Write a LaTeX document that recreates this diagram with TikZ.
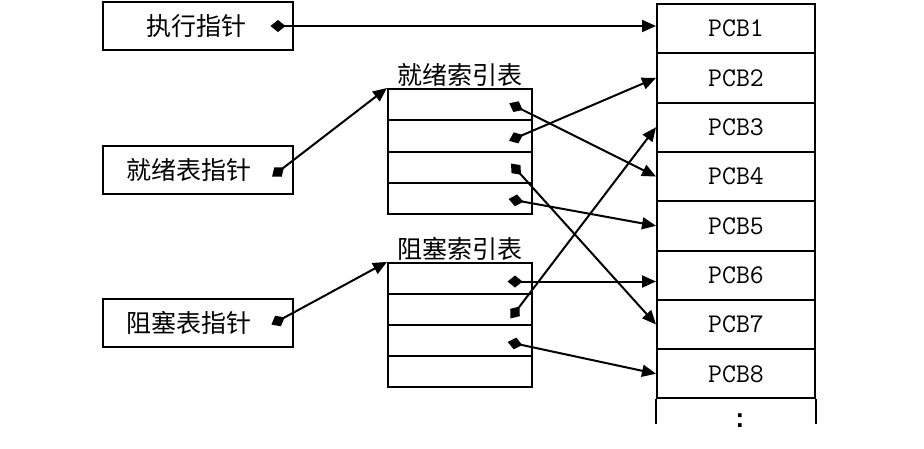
\documentclass[tikz,border=0pt]{standalone}
\usepackage{fontspec}
\newfontfamily\cjk{Noto Sans CJK SC}
\newfontfamily\monob{Liberation Mono}
\usetikzlibrary{arrows.meta}
\tikzset{
  ptrbox/.style={draw, line width=2pt, minimum width=190pt, minimum height=48pt, inner sep=0pt, font=\cjk\fontsize{25}{30}\selectfont},
  cell/.style={draw, line width=2pt, minimum width=144pt, minimum height=31.25pt, inner sep=0pt},
  pcb/.style={draw, line width=2pt, minimum width=158pt, minimum height=49.3pt, inner sep=0pt, font=\ttfamily\fontsize{27}{32}\selectfont},
  tabtitle/.style={anchor=south, inner sep=1pt, font=\cjk\fontsize{25}{30}\selectfont},
  link/.style={line width=2pt, {Diamond[length=15pt,width=12pt]}-{Triangle[length=14pt,width=12pt]}, shorten <=-7.5pt},
}
\begin{document}
\begin{tikzpicture}[x=1pt,y=-1pt]
    \useasboundingbox (0,0) rectangle (924,448);
\node[ptrbox] (run) at (198,26) {执行指针\hspace*{4pt}}; % run
\node[ptrbox] (ready) at (198,170) {就绪表指针\hspace*{18pt}}; % ready
\node[ptrbox] (block) at (198,323) {阻塞表指针\hspace*{18pt}}; % block
\coordinate (runp) at (278,26);
\coordinate (readyp) at (278,172);
\coordinate (blockp) at (278,321);
\foreach \i in {1,...,4} \node[cell] (r\i) at (460,{89+31.25*(\i-0.5)}) {}; % ready index
\foreach \i in {1,...,4} \node[cell] (b\i) at (460,{263+31*(\i-0.5)}) {}; % block index
\node[tabtitle] (rtitle) at (r1.north) {就绪索引表};
\node[tabtitle] (btitle) at (b1.north) {阻塞索引表};
\foreach \i in {1,...,4} \coordinate (rp\i) at ([xshift=-17pt,yshift=-2pt]r\i.east);
\foreach \i in {1,...,3} \coordinate (bp\i) at ([xshift=-18pt,yshift=-3pt]b\i.east);
\foreach \i in {1,...,8} \node[pcb] (p\i) at (736,{4+49.3*(\i-0.5)}) {PCB\i}; % pcb table
\draw[line width=2pt] (p8.south west) -- ++(0,25);
\draw[line width=2pt] (p8.south east) -- ++(0,25);
\node[anchor=base, inner sep=0pt, font=\monob\bfseries\fontsize{26}{30}\selectfont] (more) at (740,427) {:};
\draw[link] (runp) -- (runp -| p1.west); % run -> pcb1
\draw[link] (readyp) -- (r1.north west);
\draw[link] (blockp) -- (b1.north west);
\draw[link] (rp1) -- (p4.west);
\draw[link] (rp2) -- (p2.west);
\draw[link] (rp3) -- (p7.west);
\draw[link] (rp4) -- (p5.west);
\draw[link] (bp1) -- (bp1 -| p6.west);
\draw[link] (bp2) -- (p3.west);
\draw[link] (bp3) -- (p8.west);
    \end{tikzpicture}
\end{document}
